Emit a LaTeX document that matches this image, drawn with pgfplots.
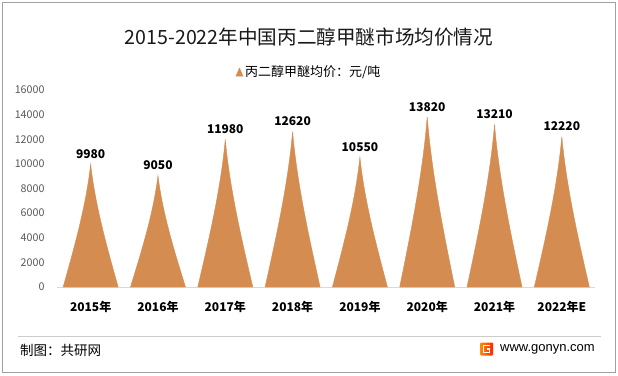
\documentclass[border=0pt]{standalone}
\usepackage{pgfplots}
\usepackage{pgfplotstable}
\pgfplotsset{compat=1.18}
\usepackage{fontspec}
\setmainfont{Noto Sans CJK SC}
\newfontfamily\arial{Liberation Sans}
\definecolor{spike}{RGB}{212,140,80}
\definecolor{ticklab}{RGB}{89,89,89}
\definecolor{axisgray}{RGB}{217,217,217}
\definecolor{framegray}{RGB}{160,160,160}
\pgfdeclareplotmark{empty}{}
\pgfplotstableread{
x v
0 9980
1 9050
2 11980
3 12620
4 10550
5 13820
6 13210
7 12220
}\prices
\begin{document}
\begin{tikzpicture}[x=1pt,y=1pt]
\fill[white] (0pt,0pt) rectangle (618pt,375pt);
\useasboundingbox (0pt,0pt) rectangle (618pt,375pt);
\draw[framegray, line width=1pt] (2.5pt,2.5pt) rectangle (615.5pt,372.5pt);
\node[font=\fontsize{19.6}{19.6}\selectfont, text=black!90] at (309pt,338pt) {2015-2022年中国丙二醇甲醚市场均价情况};
\draw[black!20, line width=0.8pt] (18pt,39pt) -- (601pt,39pt);
\node[anchor=west, font=\fontsize{13.5}{13.5}\selectfont, inner sep=0pt] at (20pt,25pt) {制图：共研网};
\node[anchor=east, font=\arial\fontsize{13}{13}\selectfont, inner sep=0pt] at (595pt,26pt) {www.gonyn.com};
\shade[left color=orange!90!yellow, right color=red!70!orange, rounded corners=1pt] (480pt,19.5pt) rectangle (493pt,32.5pt);
\draw[white, line width=1.6pt] (490pt,29.5pt) -- (483.5pt,29.5pt) -- (483.5pt,22.5pt) -- (489.5pt,22.5pt) -- (489.5pt,26pt) -- (487pt,26pt);
\begin{axis}[
  at={(57pt,88pt)}, anchor=south west,
  scale only axis, width=538.5pt, height=197pt,
  xmin=-0.5, xmax=7.5, ymin=0, ymax=16000,
  axis x line*=bottom, axis y line*=left,
  x axis line style={draw=axisgray, line width=0.8pt},
  y axis line style={draw=none},
  major tick length=0pt,
  xtick={0,1,2,3,4,5,6,7},
  xticklabels={2015年,2016年,2017年,2018年,2019年,2020年,2021年,2022年E},
  ytick={0,2000,4000,6000,8000,10000,12000,14000,16000},
  scaled y ticks=false,
  /pgf/number format/1000 sep={},
  /pgf/number format/assume math mode=true,
  xticklabel style={font=\bfseries\fontsize{12}{12}\selectfont, text=black, yshift=-11pt},
  yticklabel style={font=\fontsize{10.7}{10.7}\selectfont, text=ticklab, xshift=-9pt},
  legend style={at={(0.468,1.091)}, anchor=center, draw=none, fill=none,
    font=\fontsize{13}{13}\selectfont},
  clip=false,
]
\addplot[scatter, only marks, mark=empty,
  point meta=y, point meta min=0, point meta max=16000,
  scatter/@pre marker code/.code={%
    \pgfmathsetlengthmacro\hh{\pgfplotspointmetatransformed*0.197}%
    \pgfmathsetlengthmacro\ha{\pgfplotspointmetatransformed*0.197/3}%
    \pgfmathsetlengthmacro\hb{\pgfplotspointmetatransformed*0.197*2/3}%
    \fill[spike] (0pt,0pt) .. controls (-4.5pt,-\ha) and (-16pt,-\hb) .. (-27.5pt,-\hh)
      -- (27.5pt,-\hh) .. controls (16pt,-\hb) and (4.5pt,-\ha) .. (0pt,0pt) -- cycle;
  },
  scatter/@post marker code/.code={},
  legend image code/.code={\fill[spike] (0pt,-4pt) -- (7pt,-4pt) -- (3.5pt,4pt) -- cycle;},
] table[x=x,y=v] {\prices};
\addlegendentry{丙二醇甲醚均价：元/吨}
\addplot[only marks, mark=empty, forget plot, point meta=y,
  nodes near coords,
  nodes near coords style={font=\bfseries\fontsize{12}{12}\selectfont, text=black, anchor=south, yshift=2pt},
] table[x=x,y=v] {\prices};
\end{axis}
\end{tikzpicture}
\end{document}
